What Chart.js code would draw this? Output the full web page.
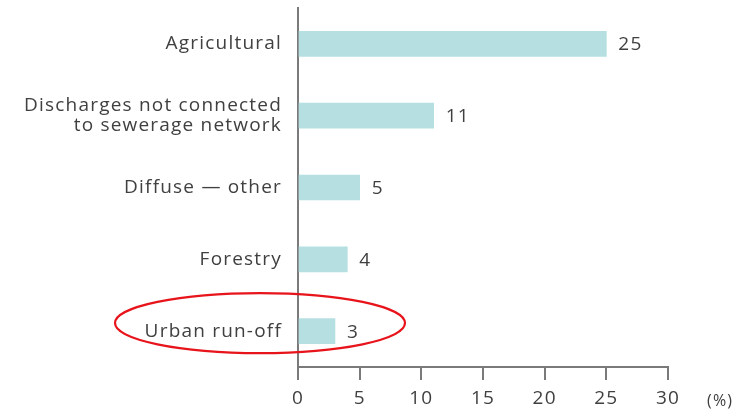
<!DOCTYPE html>
<html>
<head>
<meta charset="utf-8">
<script src="https://cdn.jsdelivr.net/npm/chart.js@4"></script>
<style>
  html, body { margin: 0; padding: 0; background: #fff; }
  #wrap { width: 742px; height: 412px; }
</style>
</head>
<body>
<div id="wrap"><canvas id="chart"></canvas></div>
<script>
// Data
const categories = [
    'Agricultural',
    ['Discharges not connected', 'to sewerage network'],
    'Diffuse \u2014 other',
    'Forestry',
    'Urban run-off'
];
const shares = [25, 11, 5, 4, 3];
const xTicks = [0, 5, 10, 15, 20, 25, 30];
const unitLabel = '(%)';
const highlighted = 4; // index of the circled category

const textColor = '#404040';
const axisColor = '#7a7a7a';
const barColor = '#b5dfe0';
const font = { family: '"Open Sans", sans-serif', size: 19, lineHeight: 1.05 };

// wider letter spacing like the printed original
const spacing = {
    id: 'spacing',
    beforeInit(chart) { chart.ctx.letterSpacing = '1.2px'; },
    beforeDraw(chart) { chart.ctx.letterSpacing = '1.2px'; }
};

// value labels at the end of each bar
const valueLabels = {
    id: 'valueLabels',
    afterDatasetsDraw(chart) {
        const ctx = chart.ctx;
        const meta = chart.getDatasetMeta(0);
        ctx.save();
        ctx.font = `${font.size}px ${font.family}`;
        ctx.fillStyle = textColor;
        ctx.textBaseline = 'middle';
        ctx.textAlign = 'left';
        meta.data.forEach((bar, i) => {
            ctx.fillText(String(shares[i]), bar.x + 12, bar.y + 1);
        });
        ctx.restore();
    }
};

// "(%)" after the last x tick
const unitText = {
    id: 'unitText',
    afterDraw(chart) {
        const ctx = chart.ctx;
        const x = chart.scales.x;
        ctx.save();
        ctx.font = `16px ${font.family}`;
        ctx.fillStyle = textColor;
        ctx.textBaseline = 'middle';
        ctx.textAlign = 'left';
        ctx.fillText(unitLabel, x.right + 39, x.top + 34);
        ctx.restore();
    }
};

// red ellipse around the highlighted category
const highlightRing = {
    id: 'highlightRing',
    afterDraw(chart) {
        const ctx = chart.ctx;
        const y = chart.scales.y;
        const x = chart.scales.x;
        const cy = y.getPixelForValue(highlighted) - 8;
        const cx = x.left - 38;
        ctx.save();
        ctx.strokeStyle = '#e8141b';
        ctx.lineWidth = 2.2;
        ctx.beginPath();
        ctx.ellipse(cx, cy, 145, 30, 0, 0, Math.PI * 2);
        ctx.stroke();
        ctx.restore();
    }
};

new Chart(document.getElementById('chart'), {
    type: 'bar',
    data: {
        labels: categories,
        datasets: [{
            data: shares,
            backgroundColor: barColor,
            borderWidth: 0,
            barThickness: 25
        }]
    },
    options: {
        indexAxis: 'y',
        responsive: true,
        maintainAspectRatio: false,
        animation: false,
        layout: { padding: { top: 8, right: 74, bottom: 0, left: 0 } },
        plugins: {
            legend: { display: false },
            tooltip: { enabled: false }
        },
        scales: {
            x: {
                min: 0,
                max: 30,
                afterBuildTicks(scale) {
                    scale.ticks = xTicks.map(v => ({ value: v }));
                },
                afterFit(scale) {
                    scale.height = 45;
                    scale.paddingLeft = 0;
                    scale.paddingRight = 0;
                },
                grid: {
                    drawOnChartArea: false,
                    drawTicks: true,
                    tickLength: 13,
                    color: axisColor,
                    lineWidth: 2
                },
                border: { color: axisColor, width: 2 },
                ticks: { color: textColor, font: font, padding: 9 }
            },
            y: {
                afterFit(scale) {
                    scale.width = 298;
                    scale.paddingTop = 0;
                    scale.paddingBottom = 0;
                },
                grid: { drawOnChartArea: false, drawTicks: false },
                border: { color: axisColor, width: 2 },
                ticks: { color: textColor, font: font, padding: 16 }
            }
        }
    },
    plugins: [spacing, valueLabels, unitText, highlightRing]
});
</script>
</body>
</html>
